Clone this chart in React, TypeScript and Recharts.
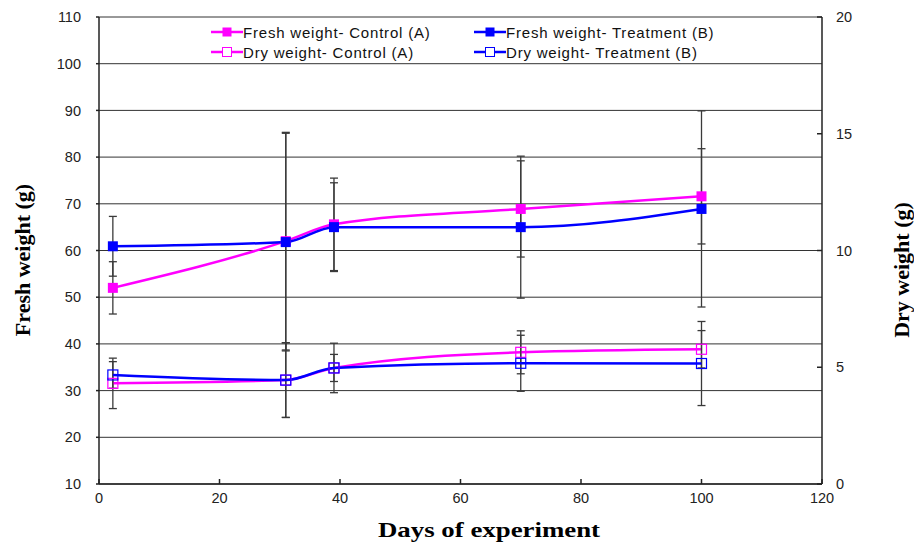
import { LineChart, Line, XAxis, YAxis, CartesianGrid, ErrorBar, Legend } from "recharts";

const days = [2.3, 31, 39, 70, 100];

const freshControl = [52, 62, 65.6, 68.9, 71.6];
const freshControlErr = [5.6, 23.3, 9.9, 10.3, 10.2];
const freshTreatment = [60.9, 61.8, 65, 65, 68.9];
const freshTreatmentErr = [6.4, 23.3, 9.5, 15.2, 21];

const dryControl = [4.31, 4.45, 4.97, 5.64, 5.77];
const dryControlErr = [1.08, 1.6, 1.06, 0.92, 0.8];
const dryTreatment = [4.67, 4.45, 4.97, 5.17, 5.16];
const dryTreatmentErr = [0.57, 1.6, 0.58, 1.2, 1.8];

const seriesNames = [
  "Fresh weight- Control (A)",
  "Fresh weight- Treatment (B)",
  "Dry weight- Control (A)",
  "Dry weight- Treatment (B)",
];

const xTicks = [0, 20, 40, 60, 80, 100, 120];
const freshTicks = [10, 20, 30, 40, 50, 60, 70, 80, 90, 100, 110];
const dryTicks = [0, 5, 10, 15, 20];

const PINK = "#FF00FF";
const BLUE = "#0000FF";
const SANS = '"Liberation Sans", Arial, sans-serif';
const SERIF = '"Liberation Serif", "Times New Roman", serif';

const data = days.map((d, i) => ({
  day: d,
  fc: freshControl[i],
  fcErr: freshControlErr[i],
  ft: freshTreatment[i],
  ftErr: freshTreatmentErr[i],
  dc: dryControl[i],
  dcErr: dryControlErr[i],
  dt: dryTreatment[i],
  dtErr: dryTreatmentErr[i],
}));

const square = (color: string, filled: boolean) => (p: any) => {
  if (p.cx == null || p.cy == null) return <g key={p.index} />;
  return (
    <rect
      key={p.index}
      x={p.cx - 5}
      y={p.cy - 5}
      width={10}
      height={10}
      fill={filled ? color : "none"}
      stroke={color}
      strokeWidth={filled ? 0 : 1.2}
    />
  );
};

function renderLegend(props: any) {
  const payload = [...(props.payload || [])].sort(
    (a: any, b: any) => seriesNames.indexOf(a.value) - seriesNames.indexOf(b.value)
  );
  return (
    <div style={{ display: "grid", gridTemplateColumns: "263px 263px" }}>
      {payload.map((e: any, i: number) => {
        const filled = String(e.value).startsWith("Fresh");
        return (
          <div key={i} style={{ display: "flex", alignItems: "center", height: 20 }}>
            <svg width={32} height={12}>
              <line x1={0} x2={32} y1={6} y2={6} stroke={e.color} strokeWidth={2.5} />
              <rect
                x={11.5}
                y={1.5}
                width={9}
                height={9}
                fill={filled ? e.color : "#fff"}
                stroke={e.color}
                strokeWidth={filled ? 0 : 1}
              />
            </svg>
            <span style={{ fontFamily: SANS, fontSize: 15, color: "#111", letterSpacing: 0.8 }}>{e.value}</span>
          </div>
        );
      })}
    </div>
  );
}

const titleStyle = { fontFamily: SERIF, fontWeight: 700, fontSize: 22, fill: "#000" };
const tickStyle = { fill: "#222", fontSize: 14.5, fontFamily: SANS };

export default function App() {
  return (
    <div style={{ position: "absolute", left: 0, top: 0, background: "#fff" }}>
      <LineChart width={914} height={544} data={data} margin={{ top: 17, right: 0, bottom: 0, left: 0 }}>
        <CartesianGrid yAxisId="left" vertical={false} stroke="#333" strokeWidth={1} />
        <XAxis
          dataKey="day"
          type="number"
          domain={[0, 120]}
          ticks={xTicks}
          height={60}
          tickSize={-5}
          tickMargin={14}
          stroke="#222"
          strokeWidth={1.5}
          tick={tickStyle}
          label={() => (
            <text
              x={489}
              y={529}
              textAnchor="middle"
              dominantBaseline="central"
              textLength={222}
              lengthAdjust="spacingAndGlyphs"
              style={titleStyle}
            >
              Days of experiment
            </text>
          )}
        />
        <YAxis
          yAxisId="left"
          domain={[10, 110]}
          ticks={freshTicks}
          width={99}
          tickSize={3}
          tickMargin={15}
          stroke="#222"
          strokeWidth={1.5}
          tick={tickStyle}
          label={() => (
            <text
              x={22}
              y={260}
              transform="rotate(-90 22 260)"
              textAnchor="middle"
              dominantBaseline="central"
              style={titleStyle}
            >
              Fresh weight (g)
            </text>
          )}
        />
        <YAxis
          yAxisId="right"
          orientation="right"
          domain={[0, 20]}
          ticks={dryTicks}
          width={92}
          tickSize={-5}
          tickMargin={19}
          stroke="#222"
          strokeWidth={1.5}
          tick={tickStyle}
          label={() => (
            <text
              x={901}
              y={270}
              transform="rotate(-90 901 270)"
              textAnchor="middle"
              dominantBaseline="central"
              style={titleStyle}
            >
              Dry weight (g)
            </text>
          )}
        />
        <Legend
          layout="horizontal"
          verticalAlign="middle"
          content={renderLegend}
          wrapperStyle={{ position: "absolute", top: 22, left: 211, width: 540 }}
        />
        <Line
          yAxisId="left"
          type="monotone"
          dataKey="fc"
          name={seriesNames[0]}
          stroke={PINK}
          strokeWidth={2.5}
          dot={square(PINK, true)}
          isAnimationActive={false}
        >
          <ErrorBar dataKey="fcErr" direction="y" width={4} stroke="#3a3a3a" strokeWidth={1.3} />
        </Line>
        <Line
          yAxisId="left"
          type="monotone"
          dataKey="ft"
          name={seriesNames[1]}
          stroke={BLUE}
          strokeWidth={2.5}
          dot={square(BLUE, true)}
          isAnimationActive={false}
        >
          <ErrorBar dataKey="ftErr" direction="y" width={4} stroke="#3a3a3a" strokeWidth={1.3} />
        </Line>
        <Line
          yAxisId="right"
          type="monotone"
          dataKey="dc"
          name={seriesNames[2]}
          stroke={PINK}
          strokeWidth={2.5}
          dot={square(PINK, false)}
          isAnimationActive={false}
        >
          <ErrorBar dataKey="dcErr" direction="y" width={4} stroke="#3a3a3a" strokeWidth={1.3} />
        </Line>
        <Line
          yAxisId="right"
          type="monotone"
          dataKey="dt"
          name={seriesNames[3]}
          stroke={BLUE}
          strokeWidth={2.5}
          dot={square(BLUE, false)}
          isAnimationActive={false}
        >
          <ErrorBar dataKey="dtErr" direction="y" width={4} stroke="#3a3a3a" strokeWidth={1.3} />
        </Line>
      </LineChart>
    </div>
  );
}
